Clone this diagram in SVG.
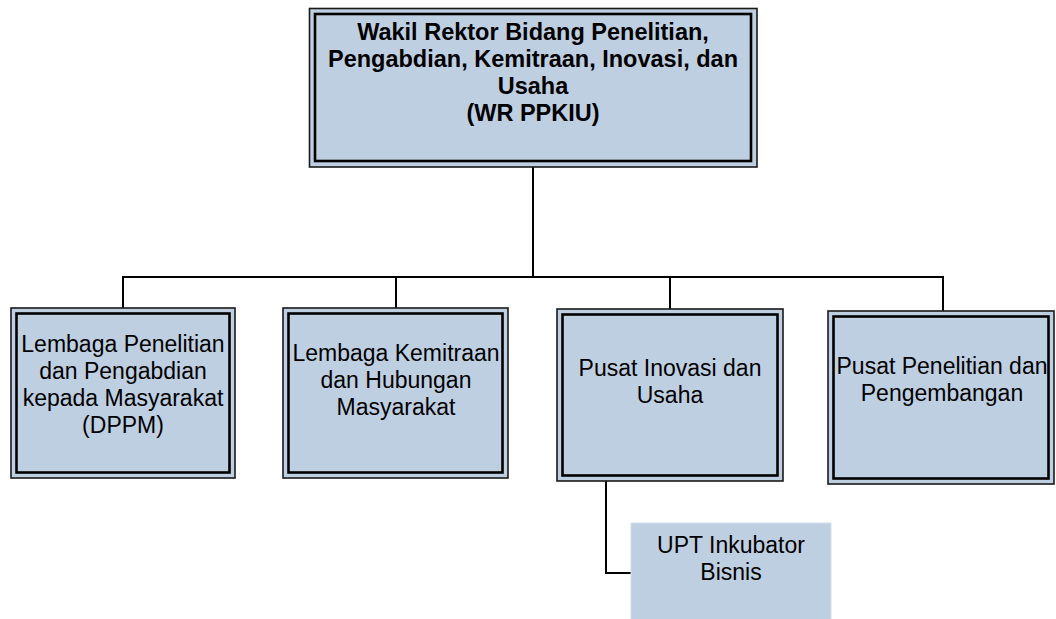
<svg xmlns="http://www.w3.org/2000/svg" width="1056" height="619" viewBox="0 0 1056 619">
<style>
.outer{fill:#bfcfe2;stroke:#1a1a1a;stroke-width:1.6}
.inner{fill:none;stroke:#000;stroke-width:2.6}
.plain{fill:#bfcfe2;stroke:#d2deec;stroke-width:1}
.conn{fill:none;stroke:#000;stroke-width:2}
.tb{font-family:"Liberation Sans",Arial,sans-serif;font-size:23.5px;font-weight:bold;fill:#000;text-anchor:middle}
.t{font-family:"Liberation Sans",Arial,sans-serif;font-size:23px;fill:#000;text-anchor:middle}
</style>
<rect width="1056" height="619" fill="#fff"/>
<g id="connectors">
<line class="conn" x1="533" y1="167" x2="533" y2="277"/>
<polyline class="conn" points="123,308 123,277 943,277 943,311"/>
<line class="conn" x1="396" y1="277" x2="396" y2="308"/>
<line class="conn" x1="670" y1="277" x2="670" y2="309"/>
<polyline class="conn" points="606,477 606,573 631,573"/>
</g>
<g id="wr-ppkiu">
<rect class="outer" x="309.5" y="8.5" width="447.5" height="158.5"/>
<rect class="inner" x="315" y="14" width="436" height="147"/>
<text class="tb" x="533" y="40">Wakil Rektor Bidang Penelitian,</text>
<text class="tb" x="533" y="67">Pengabdian, Kemitraan, Inovasi, dan</text>
<text class="tb" x="533" y="94">Usaha</text>
<text class="tb" x="533" y="121">(WR PPKIU)</text>
</g>
<g id="dppm">
<rect class="outer" x="11" y="308" width="224" height="170"/>
<rect class="inner" x="16.5" y="313.5" width="213" height="159"/>
<text class="t" x="123" y="352">Lembaga Penelitian</text>
<text class="t" x="123" y="379">dan Pengabdian</text>
<text class="t" x="123" y="406">kepada Masyarakat</text>
<text class="t" x="123" y="433">(DPPM)</text>
</g>
<g id="lkhm">
<rect class="outer" x="283" y="308" width="225" height="170"/>
<rect class="inner" x="288.5" y="313.5" width="214" height="159"/>
<text class="t" x="396" y="361">Lembaga Kemitraan</text>
<text class="t" x="396" y="388">dan Hubungan</text>
<text class="t" x="396" y="415">Masyarakat</text>
</g>
<g id="piu">
<rect class="outer" x="557" y="309" width="226" height="172"/>
<rect class="inner" x="562.5" y="314.5" width="215" height="161"/>
<text class="t" x="670" y="376">Pusat Inovasi dan</text>
<text class="t" x="670" y="403">Usaha</text>
</g>
<g id="puslitbang">
<rect class="outer" x="828" y="311" width="226" height="173"/>
<rect class="inner" x="833.5" y="316.5" width="215" height="162"/>
<text class="t" x="942" y="374">Pusat Penelitian dan</text>
<text class="t" x="942" y="401">Pengembangan</text>
</g>
<g id="upt-inkubator">
<rect class="plain" x="631" y="523" width="200" height="100"/>
<text class="t" x="731" y="553">UPT Inkubator</text>
<text class="t" x="731" y="580">Bisnis</text>
</g>
</svg>
